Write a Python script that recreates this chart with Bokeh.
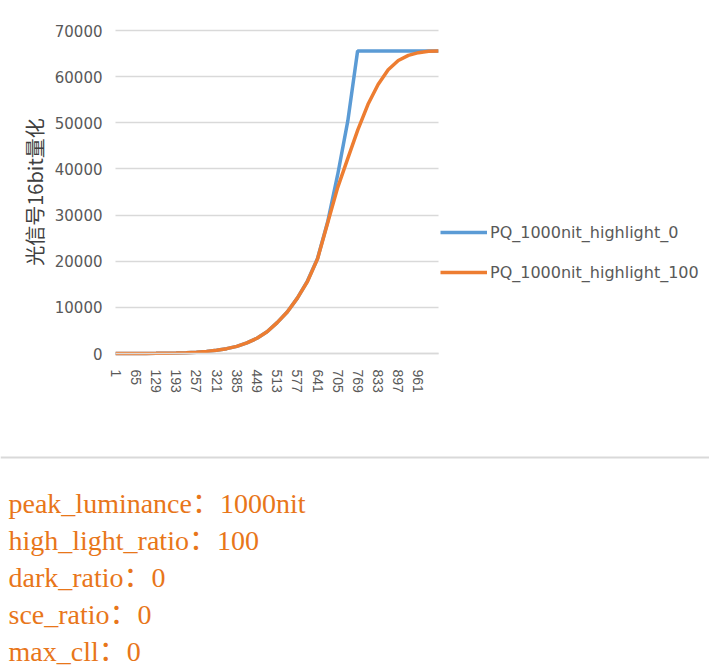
from bokeh.plotting import figure
from bokeh.models import Range1d, FixedTicker, Legend, LegendItem
from bokeh.embed import file_html
from bokeh.resources import INLINE
from bokeh.core.properties import value

# ---------------- data ----------------
series_names = ["PQ_1000nit_highlight_0", "PQ_1000nit_highlight_100"]

x_highlight_0 = [1, 33, 65, 97, 129, 161, 193, 225, 257, 289, 321, 353, 385, 417,
                 449, 481, 513, 545, 577, 609, 641, 673, 705, 737, 768, 801, 833,
                 865, 897, 929, 961, 993, 1024]
y_highlight_0 = [0, 0, 7, 20, 40, 75, 120, 185, 290, 460, 710, 1050, 1550, 2300,
                 3300, 4700, 6700, 9000, 12000, 15700, 20600, 28500, 38800, 50400,
                 65535, 65535, 65535, 65535, 65535, 65535, 65535, 65535, 65535]

x_highlight_100 = [1, 33, 65, 97, 129, 161, 193, 225, 257, 289, 321, 353, 385, 417,
                   449, 481, 513, 545, 577, 609, 641, 673, 705, 737, 769, 801, 833,
                   865, 897, 929, 961, 993, 1024]
y_highlight_100 = [0, 0, 7, 20, 40, 75, 120, 185, 290, 460, 710, 1050, 1550, 2300,
                   3300, 4700, 6700, 9000, 12000, 15600, 20500, 28300, 36000, 42300,
                   48500, 54000, 58300, 61500, 63500, 64600, 65200, 65500, 65535]

x_tick_values = [1, 65, 129, 193, 257, 321, 385, 449, 513, 577, 641, 705, 769, 833, 897, 961]
y_tick_values = [0, 10000, 20000, 30000, 40000, 50000, 60000, 70000]
y_axis_title = "光信号16bit量化"

param_names = ["peak_luminance", "high_light_ratio", "dark_ratio", "sce_ratio", "max_cll"]
param_values = ["1000nit", "100", "0", "0", "0"]

# ---------------- geometry (page pixels) ----------------
W, H = 709, 672
PLOT_LEFT, PLOT_RIGHT = 115, 438     # horizontal extent of the data area
PLOT_TOP, PLOT_BOTTOM = 30, 353      # vertical extent of the data area
X_START, X_END = 0.5, 1024.5
Y_START, Y_END = 0, 70000

sx = (PLOT_RIGHT - PLOT_LEFT) / (X_END - X_START)
sy = (PLOT_BOTTOM - PLOT_TOP) / (Y_END - Y_START)


def dx(px):  # page x -> data x
    return X_START + (px - PLOT_LEFT) / sx


def dy(py):  # page y (from top) -> data y
    return Y_START + (PLOT_BOTTOM - py) / sy


BLUE = "#5B9BD5"
ORANGE = "#ED7D31"
GRID = "#D9D9D9"
LABEL = "#595959"
TEXT_ORANGE = "#E8761A"

p = figure(width=W, height=H,
           x_range=Range1d(dx(0), dx(W)), y_range=Range1d(dy(H), dy(0)),
           output_backend="svg", toolbar_location=None, min_border=0)
p.outline_line_color = None
p.background_fill_color = "white"

r0 = p.line(x_highlight_0, y_highlight_0, line_color=BLUE, line_width=3.5)
r1 = p.line(x_highlight_100, y_highlight_100, line_color=ORANGE, line_width=3.5)

# grid
p.xgrid.visible = False
p.ygrid.ticker = FixedTicker(ticks=y_tick_values)
p.ygrid.bounds = (Y_START, Y_END)
p.ygrid.grid_line_color = GRID
p.ygrid.grid_line_width = 1.3
try:
    p.ygrid.cross_bounds = (X_START, X_END)
except Exception:
    p.ygrid.visible = False
    p.segment(x0=[X_START] * len(y_tick_values), y0=y_tick_values,
              x1=[X_END] * len(y_tick_values), y1=y_tick_values,
              line_color=GRID, line_width=1.3, level="underlay")

# y axis, drawn at the left edge of the data area
p.yaxis.fixed_location = X_START
p.yaxis.bounds = (Y_START, Y_END)
p.yaxis.ticker = FixedTicker(ticks=y_tick_values)
p.yaxis.major_label_overrides = {v: str(v) for v in y_tick_values}
p.yaxis.axis_line_color = None
p.yaxis.major_tick_line_color = None
p.yaxis.major_tick_out = 0
p.yaxis.major_tick_in = 0
p.yaxis.minor_tick_line_color = None
p.yaxis.major_label_text_font = "DejaVu Sans"
p.yaxis.major_label_text_font_size = "15px"
p.yaxis.major_label_text_color = LABEL
p.yaxis.major_label_standoff = 13
p.yaxis.axis_label = y_axis_title
p.yaxis.axis_label_text_font = "Noto Sans CJK SC"
p.yaxis.axis_label_text_font_size = "20px"
p.yaxis.axis_label_text_font_style = "normal"
p.yaxis.axis_label_text_color = "#404040"
p.yaxis.axis_label_standoff = 3

# x axis, drawn at y = 0
p.xaxis.fixed_location = Y_START
p.xaxis.bounds = (X_START, X_END)
p.xaxis.ticker = FixedTicker(ticks=x_tick_values)
p.xaxis.major_label_overrides = {v: str(v) for v in x_tick_values}
p.xaxis.major_label_orientation = "vertical"
p.xaxis.axis_line_color = GRID
p.xaxis.axis_line_width = 1.3
p.xaxis.major_tick_line_color = None
p.xaxis.major_tick_out = 0
p.xaxis.major_tick_in = 0
p.xaxis.minor_tick_line_color = None
p.xaxis.major_label_text_font = "Liberation Sans"
p.xaxis.major_label_text_font_size = "14px"
p.xaxis.major_label_text_color = LABEL
p.xaxis.major_label_standoff = 16

# legend to the right of the data area
legend = Legend(items=[LegendItem(label=series_names[0], renderers=[r0]),
                       LegendItem(label=series_names[1], renderers=[r1])],
                location=(PLOT_RIGHT + 2, H - 282), orientation="vertical",
                glyph_width=47, glyph_height=20, label_height=20,
                spacing=20, padding=0, margin=0, label_standoff=3,
                border_line_color=None, background_fill_alpha=0,
                label_text_font="DejaVu Sans", label_text_font_size="16px",
                label_text_color=LABEL)
p.add_layout(legend)

# separator and parameter text block
p.segment(x0=[dx(0)], y0=[dy(457)], x1=[dx(W)], y1=[dy(457)],
          line_color=GRID, line_width=2)

lines = [n + "：" + v for n, v in zip(param_names, param_values)]
p.text(x=[dx(8)] * len(lines), y=[dy(503 + 37 * i) for i in range(len(lines))],
       text=lines, text_font=value("Liberation Serif, Noto Sans CJK SC"),
       text_font_size="28px", text_color=TEXT_ORANGE,
       text_baseline="alphabetic", text_align="left")

open("out.html", "w").write(file_html(p, INLINE))
